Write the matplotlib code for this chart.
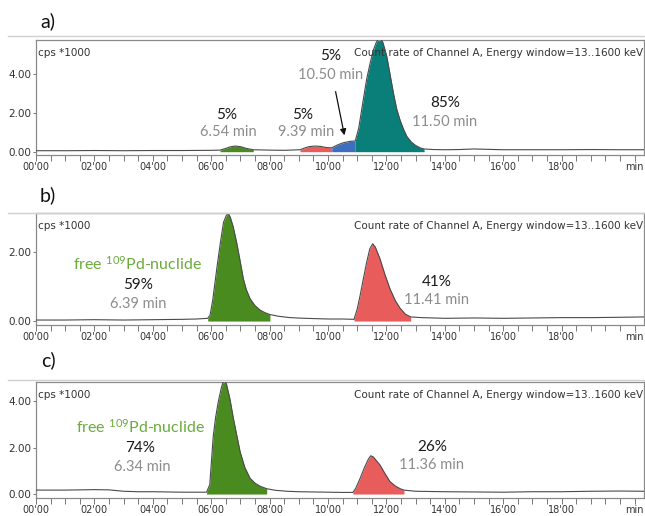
import matplotlib
matplotlib.use("Agg")
import matplotlib.pyplot as plt
from matplotlib.lines import Line2D
from matplotlib.ticker import FixedLocator, MultipleLocator
import numpy as np

plt.rcParams['mathtext.fontset'] = 'custom'
plt.rcParams['mathtext.rm'] = 'Lato'
plt.rcParams['mathtext.it'] = 'Lato:italic'
plt.rcParams['mathtext.bf'] = 'Lato:bold'

# ---------------- data (time in min, count rate in cps*1000) ----------------
TIME_A = [0, 1, 2, 3, 4, 5, 6, 6.30, 6.50, 6.65, 6.82, 7.00, 7.20, 7.44, 8.0, 8.5,
          9.04, 9.20, 9.35, 9.55, 9.75, 9.95, 10.13, 10.30, 10.50, 10.75, 10.93,
          11.05, 11.20, 11.32, 11.45, 11.55, 11.65, 11.76, 11.88, 12.01, 12.12,
          12.24, 12.35, 12.47, 12.60, 12.70, 12.85, 12.98, 13.15, 13.29, 13.6,
          14.0, 14.5, 15.0, 15.5, 16, 17, 18, 19, 20, 20.8]
CPS_A = [0.05, 0.05, 0.06, 0.05, 0.06, 0.06, 0.07, 0.08, 0.17, 0.25, 0.29, 0.26, 0.17,
         0.10, 0.08, 0.07, 0.10, 0.19, 0.26, 0.29, 0.27, 0.21, 0.20, 0.33, 0.45, 0.53,
         0.55, 1.20, 2.60, 3.70, 4.60, 5.20, 5.60, 5.90, 5.60, 4.90, 4.00, 3.00, 2.20,
         1.60, 1.10, 0.78, 0.50, 0.34, 0.20, 0.14, 0.11, 0.10, 0.11, 0.14, 0.12, 0.10,
         0.10, 0.10, 0.11, 0.10, 0.10]
PEAKS_A = [(6.30, 7.44), (9.04, 10.13), (10.13, 10.93), (10.93, 13.29)]
PERCENT_A = ["5%", "5%", "5%", "85%"]
RETENTION_A = ["6.54 min", "9.39 min", "10.50 min", "11.50 min"]

TIME_B = [0, 1, 2, 3, 4, 5, 5.5, 5.88, 5.96, 6.05, 6.19, 6.30, 6.42, 6.52, 6.59, 6.66,
          6.75, 6.87, 7.00, 7.10, 7.20, 7.33, 7.50, 7.67, 7.85, 8.01, 8.3, 8.7, 9.2,
          10.0, 10.5, 10.89, 11.00, 11.10, 11.21, 11.32, 11.43, 11.53, 11.62, 11.78,
          11.95, 12.12, 12.30, 12.47, 12.65, 12.83, 13.2, 14, 15, 16, 17, 18, 19, 20, 20.8]
CPS_B = [0.03, 0.03, 0.04, 0.03, 0.04, 0.05, 0.06, 0.08, 0.17, 0.60, 1.52, 2.20, 2.87,
         3.08, 3.13, 3.00, 2.75, 2.29, 1.70, 1.23, 0.92, 0.65, 0.45, 0.32, 0.24, 0.19,
         0.14, 0.10, 0.08, 0.06, 0.06, 0.05, 0.35, 0.75, 1.23, 1.70, 2.10, 2.25, 2.15,
         1.81, 1.35, 0.94, 0.60, 0.37, 0.20, 0.12, 0.10, 0.08, 0.09, 0.08, 0.09, 0.10,
         0.10, 0.11, 0.12]
PEAKS_B = [(5.88, 8.01), (10.89, 12.83)]
PERCENT_B = ["59%", "41%"]
RETENTION_B = ["6.39 min", "11.41 min"]

TIME_C = [0, 1, 2, 2.5, 3, 3.5, 4, 5, 5.5, 5.84, 5.95, 6.07, 6.15, 6.24, 6.35, 6.44,
          6.52, 6.64, 6.76, 6.88, 6.99, 7.15, 7.33, 7.50, 7.67, 7.90, 8.2, 8.6, 9.0,
          10.0, 10.5, 10.85, 10.95, 11.10, 11.25, 11.38, 11.46, 11.55, 11.78, 11.95,
          12.12, 12.30, 12.47, 12.60, 13.0, 14, 15, 16, 17, 18, 19, 20, 20.8]
CPS_C = [0.17, 0.17, 0.19, 0.18, 0.12, 0.10, 0.10, 0.08, 0.08, 0.08, 0.40, 2.50, 3.30,
         3.97, 4.60, 4.95, 4.75, 4.10, 3.25, 2.50, 1.82, 1.15, 0.68, 0.47, 0.34, 0.23,
         0.16, 0.12, 0.10, 0.08, 0.07, 0.07, 0.25, 0.68, 1.15, 1.50, 1.65, 1.60, 1.25,
         0.88, 0.54, 0.35, 0.23, 0.17, 0.12, 0.10, 0.09, 0.08, 0.10, 0.10, 0.12, 0.13,
         0.12]
PEAKS_C = [(5.84, 7.90), (10.85, 12.60)]
PERCENT_C = ["74%", "26%"]
RETENTION_C = ["6.34 min", "11.36 min"]

PANEL_LABELS = ["a)", "b)", "c)"]
X_TICKS = [0, 2, 4, 6, 8, 10, 12, 14, 16, 18]
X_TICK_LABELS = ["00'00", "02'00", "04'00", "06'00", "08'00", "10'00", "12'00",
                 "14'00", "16'00", "18'00"]
FREE_LABEL = "free $^{109}$Pd-nuclide"

# ---------------- styles / layout ----------------
GREEN = "#4a8b20"
RED = "#e85c5c"
BLUE = "#3d6fbf"
TEAL = "#0a7e79"
COLORS_A = [GREEN, RED, BLUE, TEAL]
COLORS_BC = [GREEN, RED]
TRACE = "#4a4a4a"
GRAY_TXT = "#8c8c8c"
GREEN_TXT = "#6aab3c"

W, H = 645, 516
fig = plt.figure(figsize=(W / 100, H / 100), dpi=100)

def frac_rect(left, top, right, bottom):
    return [left / W, 1 - bottom / H, (right - left) / W, (bottom - top) / H]

panels = [
    dict(rect=frac_rect(36, 40, 644, 154.5), ylim=(-0.144, 5.73), yticks=[0, 2, 4],
         t=TIME_A, y=CPS_A, peaks=PEAKS_A, colors=COLORS_A, pct=PERCENT_A, ret=RETENTION_A,
         pct_pos=[(6.54, 1.88), (9.14, 1.88), (10.1, 4.91), (14.0, 2.50)],
         ret_pos=[(6.58, 1.01), (9.25, 1.01), (10.1, 3.93), (14.0, 1.52)],
         free_pos=None, sep=36, lab_y=21),
    dict(rect=frac_rect(36, 213.3, 644, 324.5), ylim=(-0.10, 3.135), yticks=[0, 2],
         t=TIME_B, y=CPS_B, peaks=PEAKS_B, colors=COLORS_BC, pct=PERCENT_B, ret=RETENTION_B,
         pct_pos=[(3.51, 1.05), (13.73, 1.14)],
         ret_pos=[(3.51, 0.51), (13.70, 0.61)],
         free_pos=(3.48, 1.66), sep=212.5, lab_y=195),
    dict(rect=frac_rect(36, 382.0, 644, 497.5), ylim=(-0.149, 4.83), yticks=[0, 2, 4],
         t=TIME_C, y=CPS_C, peaks=PEAKS_C, colors=COLORS_BC, pct=PERCENT_C, ret=RETENTION_C,
         pct_pos=[(3.56, 2.00), (13.56, 2.03)],
         ret_pos=[(3.63, 1.18), (13.56, 1.25)],
         free_pos=(3.59, 2.89), sep=379.5, lab_y=360),
]

for i, p in enumerate(panels):
    # separator line and panel label
    fig.add_artist(Line2D([8 / W, 1.0], [1 - p["sep"] / H] * 2, color="#d0d0d0", lw=1.0))
    fig.text(48 / W, 1 - p["lab_y"] / H, PANEL_LABELS[i], fontsize=14, family="Lato",
             ha="center", va="center", color="#111111")

    ax = fig.add_axes(p["rect"])
    t = np.array(p["t"])
    y = np.array(p["y"])
    for (s, e), c in zip(p["peaks"], p["colors"]):
        m = (t >= s - 1e-9) & (t <= e + 1e-9)
        ax.fill_between(t[m], y[m], 0, color=c, lw=0, zorder=2)
    ax.plot(t, y, color=TRACE, lw=0.8, zorder=3)

    ax.set_xlim(0, 20.82)
    ax.set_ylim(*p["ylim"])
    ax.xaxis.set_major_locator(FixedLocator(X_TICKS + [20.5]))
    ax.set_xticklabels(X_TICK_LABELS + ["min"])
    ax.xaxis.set_minor_locator(MultipleLocator(0.5))
    ax.set_yticks(p["yticks"])
    ax.set_yticklabels([f"{v:.2f}" for v in p["yticks"]])
    ax.tick_params(axis="x", which="both", direction="out", length=4.3, width=0.7,
                   color="#777777", labelsize=7, pad=1.0, labelcolor="#333333")
    ax.tick_params(axis="y", direction="out", length=2.5, width=0.7, color="#777777",
                   labelsize=7.5, pad=1, labelcolor="#333333")
    for sp in ax.spines.values():
        sp.set_color("#8a8a8a")
        sp.set_linewidth(0.9)

    ax.text(0.004, 0.89, "cps *1000", transform=ax.transAxes, fontsize=7.5,
            color="#333333", ha="left", va="center")
    ax.text(0.999, 0.89, "Count rate of Channel A, Energy window=13..1600 keV",
            transform=ax.transAxes, fontsize=7.5, color="#333333", ha="right", va="center")

    for txt, (x0, y0) in zip(p["pct"], p["pct_pos"]):
        ax.text(x0, y0, txt, fontsize=11, family="Lato", color="#1a1a1a",
                ha="center", va="center", zorder=5)
    for txt, (x0, y0) in zip(p["ret"], p["ret_pos"]):
        ax.text(x0, y0, txt, fontsize=10.5, family="Lato", color=GRAY_TXT,
                ha="center", va="center", zorder=5)
    if p["free_pos"] is not None:
        ax.text(p["free_pos"][0], p["free_pos"][1], FREE_LABEL, fontsize=11.5,
                family="Lato", color=GREEN_TXT, ha="center", va="center", zorder=5)
    if i == 0:
        ax.annotate("", xy=(10.58, 0.70), xytext=(10.24, 3.22),
                    arrowprops=dict(arrowstyle="-|>", color="#111111", lw=0.9,
                                    mutation_scale=9), zorder=6)

fig.savefig("out.png", dpi=100)
